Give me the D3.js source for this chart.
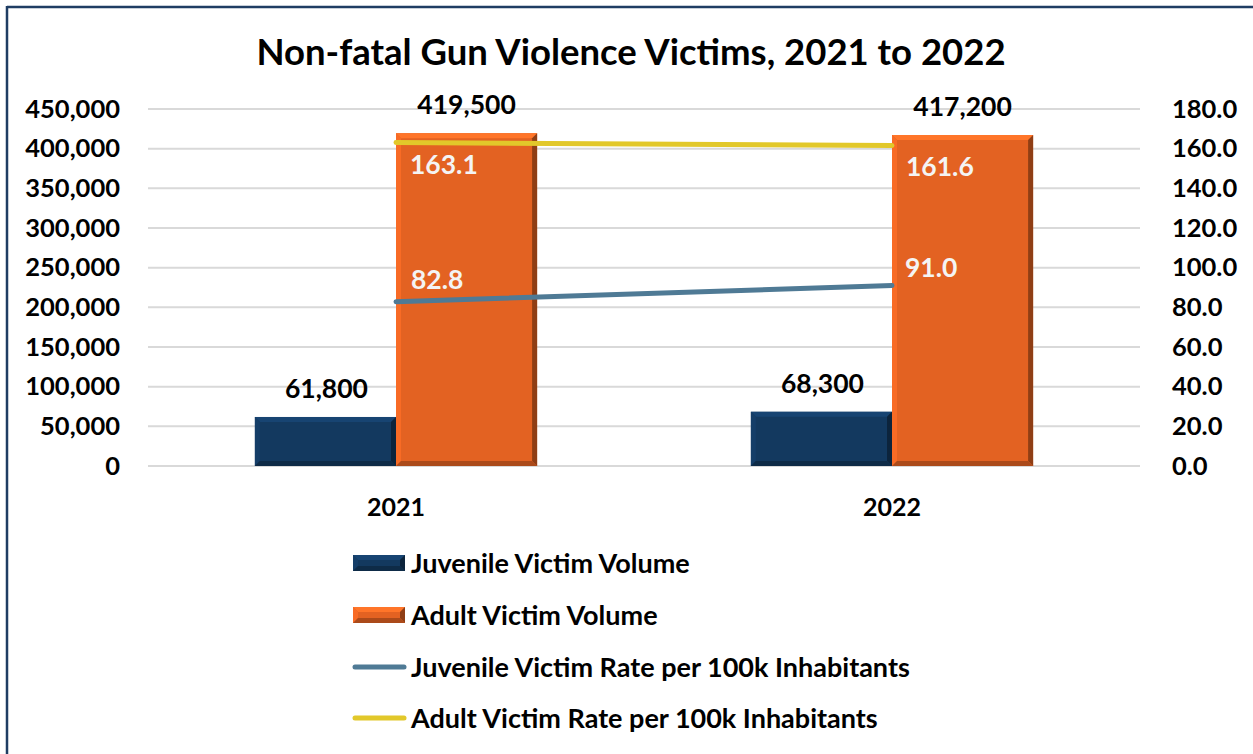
<!DOCTYPE html>
<html>
<head>
<meta charset="utf-8">
<script src="https://cdn.jsdelivr.net/npm/d3@7/dist/d3.min.js"></script>
<style>
  html, body { margin: 0; padding: 0; background: #fff; }
  svg { display: block; }
  text { font-family: Lato, "Open Sans", sans-serif; font-weight: bold; }
</style>
</head>
<body>
<svg id="chart" width="1253" height="754"></svg>
<script>
const categories = ["2021", "2022"];
const juvenileVolume = [61800, 68300];
const adultVolume = [419500, 417200];
const juvenileRate = [82.8, 91.0];
const adultRate = [163.1, 161.6];
const leftTicks = [0, 50000, 100000, 150000, 200000, 250000, 300000, 350000, 400000, 450000];
const rightTicks = [0, 20, 40, 60, 80, 100, 120, 140, 160, 180];
const title = "Non-fatal Gun Violence Victims, 2021 to 2022";
const legendLabels = ["Juvenile Victim Volume", "Adult Victim Volume",
  "Juvenile Victim Rate per 100k Inhabitants", "Adult Victim Rate per 100k Inhabitants"];

const W = 1253, H = 754;
const plot = { left: 148, right: 1140, top: 109, bottom: 466 };
const colors = { juv: "#13395f", adult: "#e36222", juvLine: "#4f7a95", adultLine: "#e2c82a", grid: "#d9d9d9" };

const svg = d3.select("#chart");

// frame
svg.append("rect").attr("width", W).attr("height", H).attr("fill", "#fff");
svg.append("line").attr("x1", 7).attr("x2", W).attr("y1", 7).attr("y2", 7)
  .attr("stroke", "#1f3d63").attr("stroke-width", 2.5);
svg.append("line").attr("x1", 7).attr("x2", 7).attr("y1", 6).attr("y2", H)
  .attr("stroke", "#1f3d63").attr("stroke-width", 2.5);

// title
svg.append("text").attr("x", 631).attr("y", 65).attr("text-anchor", "middle")
  .attr("font-size", 36.5).attr("fill", "#000").text(title);

const x0 = d3.scaleBand().domain(categories).range([plot.left, plot.right])
  .paddingInner(0.431).paddingOuter(0.2155);
const x1 = d3.scaleBand().domain(["juv", "adult"]).range([0, x0.bandwidth()]);
const yL = d3.scaleLinear().domain([0, 450000]).range([plot.bottom, plot.top]);
const yR = d3.scaleLinear().domain([0, 180]).range([plot.bottom, plot.top]);

// gridlines
svg.append("g").selectAll("line").data(leftTicks).join("line")
  .attr("x1", plot.left).attr("x2", plot.right)
  .attr("y1", d => yL(d)).attr("y2", d => yL(d))
  .attr("stroke", colors.grid).attr("stroke-width", 2);

// left axis
const fmt = d3.format(",");
const axL = svg.append("g").attr("transform", `translate(${plot.left - 28},0)`)
  .call(d3.axisLeft(yL).tickValues(leftTicks).tickFormat(fmt).tickSize(0).tickPadding(0));
axL.select(".domain").remove();
axL.selectAll("text").attr("font-size", 25.5).attr("fill", "#000")
  .attr("font-family", "Lato, sans-serif").attr("font-weight", "bold");

// right axis
const axR = svg.append("g").attr("transform", `translate(${plot.right + 32},0)`)
  .call(d3.axisRight(yR).tickValues(rightTicks).tickFormat(d3.format(".1f")).tickSize(0).tickPadding(0));
axR.select(".domain").remove();
axR.selectAll("text").attr("font-size", 25.5).attr("fill", "#000")
  .attr("font-family", "Lato, sans-serif").attr("font-weight", "bold");

// x axis labels
svg.append("g").selectAll("text").data(categories).join("text")
  .attr("x", d => x0(d) + x0.bandwidth() / 2).attr("y", 516)
  .attr("text-anchor", "middle").attr("font-size", 25).attr("fill", "#000").text(d => d);

// bevelled bar
function bevelBar(g, x, y, w, h, fill) {
  const b = Math.min(5, h / 3);
  g.append("rect").attr("x", x).attr("y", y).attr("width", w).attr("height", h).attr("fill", fill);
  const c = d3.color(fill);
  const light = c.brighter(0.5).formatHex();
  const lightL = c.brighter(0.25).formatHex();
  const dark = c.darker(1.3).formatHex();
  const darkB = c.darker(0.8).formatHex();
  const poly = pts => g.append("polygon").attr("points", pts.map(p => p.join(",")).join(" "));
  poly([[x, y], [x + w, y], [x + w - b, y + b], [x + b, y + b]]).attr("fill", light);
  poly([[x, y], [x + b, y + b], [x + b, y + h - b], [x, y + h]]).attr("fill", lightL);
  poly([[x + w, y], [x + w, y + h], [x + w - b, y + h - b], [x + w - b, y + b]]).attr("fill", dark);
  poly([[x, y + h], [x + w, y + h], [x + w - b, y + h - b], [x + b, y + h - b]]).attr("fill", darkB);
}

const bars = svg.append("g");
categories.forEach((c, i) => {
  const xj = x0(c) + x1("juv"), xa = x0(c) + x1("adult"), bw = x1.bandwidth();
  bevelBar(bars, xj, yL(juvenileVolume[i]), bw, yL(0) - yL(juvenileVolume[i]), colors.juv);
  bevelBar(bars, xa, yL(adultVolume[i]), bw, yL(0) - yL(adultVolume[i]), colors.adult);
});

// bar labels
const lblG = svg.append("g");
categories.forEach((c, i) => {
  const bw = x1.bandwidth();
  lblG.append("text").attr("x", x0(c) + x1("juv") + bw / 2 + 1).attr("y", yL(juvenileVolume[i]) - 19)
    .attr("text-anchor", "middle").attr("font-size", 26.5).attr("fill", "#000").text(fmt(juvenileVolume[i]));
  lblG.append("text").attr("x", x0(c) + x1("adult") + bw / 2).attr("y", yL(adultVolume[i]) - 19)
    .attr("text-anchor", "middle").attr("font-size", 26.5).attr("fill", "#000").text(fmt(adultVolume[i]));
});

// lines
const cx = c => x0(c) + x0.bandwidth() / 2;
const line = d3.line().x((d, i) => cx(categories[i])).y(d => yR(d));
svg.append("path").datum(juvenileRate).attr("d", line).attr("fill", "none")
  .attr("stroke", colors.juvLine).attr("stroke-width", 5).attr("stroke-linecap", "round");
svg.append("path").datum(adultRate).attr("d", line).attr("fill", "none")
  .attr("stroke", colors.adultLine).attr("stroke-width", 5).attr("stroke-linecap", "round");

// rate labels
const rateLbl = svg.append("g");
const juvOff = [-13, -9];
categories.forEach((c, i) => {
  rateLbl.append("text").attr("x", cx(c) + 14).attr("y", yR(adultRate[i]) + 31)
    .attr("font-size", 26.5).attr("fill", "#f4f4f4").text(adultRate[i].toFixed(1));
  rateLbl.append("text").attr("x", cx(c) + (i === 0 ? 15 : 13)).attr("y", yR(juvenileRate[i]) + juvOff[i])
    .attr("font-size", 26.5).attr("fill", "#f4f4f4").text(juvenileRate[i].toFixed(1));
});

// legend
const leg = svg.append("g");
const legY = [563, 615, 667, 718];
const legKinds = [["bar", colors.juv], ["bar", colors.adult], ["line", colors.juvLine], ["line", colors.adultLine]];
legendLabels.forEach((t, i) => {
  const y = legY[i];
  if (legKinds[i][0] === "bar") {
    bevelBar(leg, 353, y - 8, 52, 16, legKinds[i][1]);
  } else {
    leg.append("line").attr("x1", 355).attr("x2", 404).attr("y1", y).attr("y2", y)
      .attr("stroke", legKinds[i][1]).attr("stroke-width", 5).attr("stroke-linecap", "round");
  }
  leg.append("text").attr("x", 411).attr("y", y + 9.5).attr("font-size", 27).attr("fill", "#000").text(t);
});
</script>
</body>
</html>
